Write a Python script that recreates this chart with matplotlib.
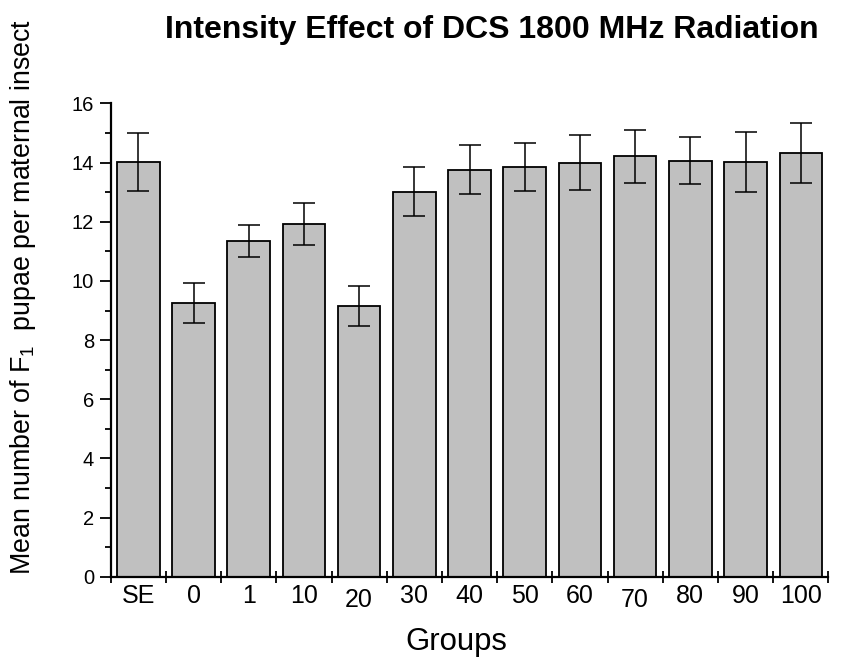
import numpy as np
import matplotlib
matplotlib.use('Agg')
import matplotlib.pyplot as plt
from matplotlib.ticker import MultipleLocator, FixedLocator

plt.rcParams['font.family'] = ['Liberation Sans', 'DejaVu Sans']
plt.rcParams['mathtext.fontset'] = 'custom'
plt.rcParams['mathtext.rm'] = 'Liberation Sans'
plt.rcParams['mathtext.default'] = 'regular'

groups = ['SE', '0', '1', '10', '20', '30', '40', '50', '60', '70', '80', '90', '100']
means = [14.03, 9.26, 11.36, 11.93, 9.16, 13.02, 13.76, 13.85, 14.0, 14.21, 14.07, 14.03, 14.32]
errors = [0.98, 0.67, 0.54, 0.7, 0.67, 0.84, 0.82, 0.82, 0.92, 0.91, 0.8, 1.02, 1.01]

fig = plt.figure(figsize=(8.47, 6.57), dpi=100)
ax = fig.add_axes([0.1307, 0.1222, 0.8473, 0.7203])

x = np.arange(len(groups))
ax.bar(x, means, width=0.77, color='#c0c0c0', edgecolor='black', linewidth=1.3, zorder=2)
ax.errorbar(x, means, yerr=errors, fmt='none', ecolor='black', elinewidth=1.1,
            capsize=8, capthick=1.1, zorder=3)

ax.set_xlim(-0.5, len(groups) - 0.5)
ax.set_ylim(0, 16)

for s in ['top', 'right']:
    ax.spines[s].set_visible(False)
for s in ['left', 'bottom']:
    ax.spines[s].set_linewidth(1.6)

ax.yaxis.set_major_locator(MultipleLocator(2))
ax.yaxis.set_minor_locator(MultipleLocator(1))
ax.tick_params(axis='y', which='major', direction='out', length=8, width=1.3, labelsize=14.5, pad=4)
ax.tick_params(axis='y', which='minor', direction='out', length=4, width=1.3)

ax.set_xticks(x)
ax.set_xticklabels(groups)
ax.xaxis.set_minor_locator(FixedLocator(np.arange(-0.5, len(groups), 1.0)))
ax.tick_params(axis='x', which='major', length=0, labelsize=18, pad=5)
ax.tick_params(axis='x', which='minor', direction='inout', length=9, width=1.3)

# the "20" and "70" labels sit a little lower in the original
ticks = ax.xaxis.get_major_ticks()
for i in [4, 9]:
    ticks[i].set_pad(8)

fig.text(0.581, 0.9426, 'Intensity Effect of DCS 1800 MHz Radiation',
         ha='center', va='baseline', fontsize=23, fontweight='bold')
fig.text(0.539, 0.010, 'Groups', ha='center', va='baseline', fontsize=22.4)
fig.text(0.027, 0.548, 'Mean number of F$_1$  pupae per maternal insect',
         ha='center', va='center', rotation=90, fontsize=19.3)

fig.savefig('out.png', dpi=100)
